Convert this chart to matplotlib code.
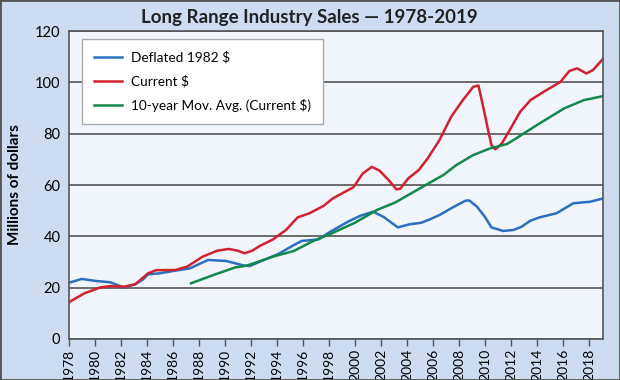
import numpy as np
import matplotlib
matplotlib.use("Agg")
import matplotlib.pyplot as plt
from matplotlib.patches import Rectangle

plt.rcParams['font.family'] = ['Lato', 'DejaVu Sans']

# values
defl_years = [1978.0, 1979.0, 1980.1, 1981.2, 1982.2, 1983.1, 1983.7, 1984.1, 1985.0,
              1986.0, 1987.3, 1988.7, 1990.1, 1991.4, 1991.9, 1993.0, 1994.1, 1995.3,
              1995.9, 1997.2, 1998.1, 1999.5, 2000.4, 2001.4, 2002.2, 2003.3, 2004.2,
              2005.1, 2005.8, 2006.5, 2007.6, 2008.5, 2008.8, 2009.4, 2010.0, 2010.5,
              2011.4, 2012.2, 2012.8, 2013.5, 2014.2, 2015.5, 2016.8, 2018.1, 2019.1]
defl_vals = [21.9, 23.4, 22.6, 22.1, 20.1, 21.3, 23.2, 25.2, 25.6,
             26.5, 27.5, 30.8, 30.4, 28.7, 28.4, 30.8, 33.1, 36.6,
             38.2, 38.8, 41.8, 45.8, 48.0, 49.6, 47.6, 43.5, 44.7,
             45.3, 46.7, 48.3, 51.5, 53.9, 54.0, 51.5, 47.6, 43.5,
             42.1, 42.5, 43.7, 46.1, 47.4, 49.0, 52.9, 53.5, 54.8]

curr_years = [1978.0, 1979.2, 1979.9, 1980.4, 1981.2, 1982.3, 1983.1, 1984.1, 1984.7,
              1986.2, 1987.1, 1988.3, 1989.4, 1990.3, 1991.0, 1991.5, 1992.1, 1992.7,
              1993.7, 1994.7, 1995.6, 1996.5, 1997.6, 1998.3, 1999.9, 2000.6, 2001.3,
              2001.9, 2002.6, 2003.2, 2003.5, 2004.1, 2004.9, 2005.6, 2006.5, 2007.4,
              2008.3, 2009.1, 2009.5, 2009.7, 2010.0, 2010.3, 2010.5, 2010.8, 2011.3,
              2011.9, 2012.7, 2013.5, 2014.5, 2015.8, 2016.5, 2017.1, 2017.8, 2018.3,
              2019.1]
curr_vals = [14.3, 17.8, 19.1, 20.1, 20.6, 20.4, 21.3, 25.6, 26.8,
             26.9, 28.2, 32.1, 34.4, 35.1, 34.4, 33.4, 34.4, 36.3,
             38.8, 42.5, 47.4, 49.0, 51.9, 54.8, 59.2, 64.5, 67.1,
             65.6, 61.9, 58.3, 58.6, 62.6, 65.8, 70.4, 77.5, 86.6,
             93.1, 98.3, 98.8, 94.4, 87.3, 80.1, 75.6, 73.9, 76.2,
             81.4, 88.5, 93.1, 96.3, 100.2, 104.5, 105.5, 103.5, 104.8,
             109.3]

avg_years = [1987.4, 1989.1, 1990.8, 1991.7, 1993.7, 1995.3, 1996.8, 1998.1, 2000.0,
             2001.7, 2003.1, 2005.2, 2006.8, 2007.8, 2009.1, 2010.4, 2011.7, 2012.4,
             2014.0, 2016.1, 2017.6, 2019.1]
avg_vals = [21.7, 24.9, 27.9, 28.6, 32.1, 34.3, 38.2, 40.9, 45.3,
            50.3, 53.2, 59.3, 63.9, 67.8, 71.7, 74.3, 76.0, 78.2,
            83.4, 89.9, 93.1, 94.7]

x_ticks = list(range(1978, 2019, 2))
y_ticks = [0, 20, 40, 60, 80, 100, 120]

fig = plt.figure(figsize=(6.2, 3.8), dpi=100, facecolor='#cddcf0')
ax = fig.add_axes([0.111, 0.108, 0.862, 0.810])
ax.set_facecolor('#f1f5fc')

ax.plot(defl_years, defl_vals, color='#2b6fc0', lw=1.8, label='Deflated 1982 $')
ax.plot(curr_years, curr_vals, color='#d2202f', lw=1.8, label='Current $')
ax.plot(avg_years, avg_vals, color='#12884a', lw=1.8, label='10-year Mov. Avg. (Current $)')

ax.set_xlim(1978, 2019.1)
ax.set_ylim(0, 120)
ax.set_xticks(x_ticks)
ax.set_xticklabels([str(x) for x in x_ticks], rotation=90)
ax.set_yticks(y_ticks)
ax.tick_params(axis='x', direction='out', length=5, width=1, color='#555555', labelsize=10, pad=2)
ax.tick_params(axis='y', length=0, labelsize=10.5, pad=6)
ax.yaxis.grid(True, color='#555555', lw=1.2)
ax.set_axisbelow(True)
for s in ax.spines.values():
    s.set_color('#555555')
    s.set_linewidth(1.2)

ax.set_ylabel('Millions of dollars', fontsize=11, fontweight='bold', labelpad=9)
ax.set_title('Long Range Industry Sales \u2014 1978-2019', fontsize=13.5, fontweight='bold',
             color='#222222', pad=6, x=0.45)

leg = ax.legend(loc='upper left', bbox_to_anchor=(0.01, 1.0), fontsize=9.8,
                fancybox=False, framealpha=1, edgecolor='#aaaaaa', borderpad=0.85,
                handlelength=2.1, handletextpad=0.65, labelspacing=0.85,
                borderaxespad=0.6)
leg.get_frame().set_linewidth(1.0)

fig.patches.append(Rectangle((0, 0), 1, 1, transform=fig.transFigure, fill=False,
                             edgecolor='#555555', lw=2))

fig.savefig('out.png', dpi=100, facecolor=fig.get_facecolor())
